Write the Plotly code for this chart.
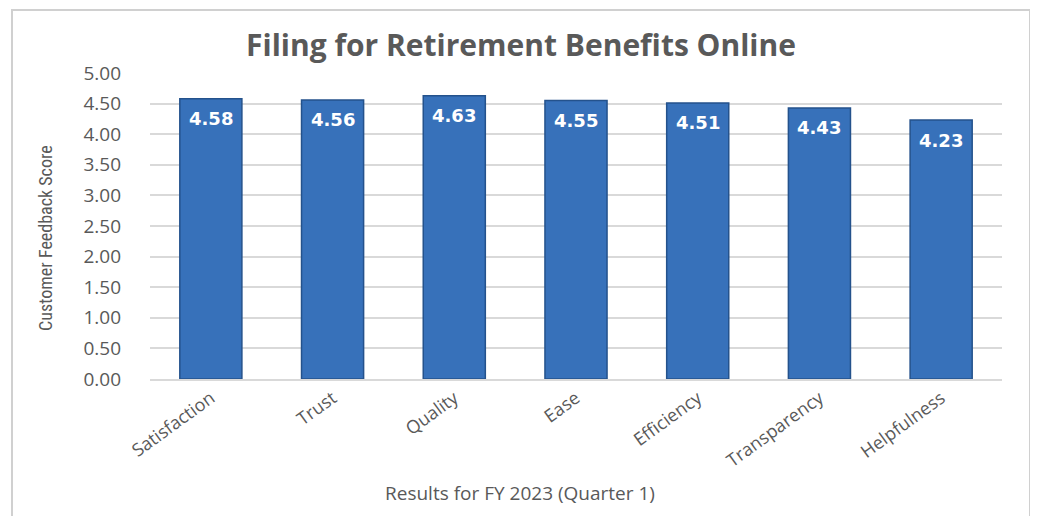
import plotly.graph_objects as go

categories = ["Satisfaction", "Trust", "Quality", "Ease", "Efficiency", "Transparency", "Helpfulness"]
scores = [4.58, 4.56, 4.63, 4.55, 4.51, 4.43, 4.23]
y_ticks = [0, 0.5, 1.0, 1.5, 2.0, 2.5, 3.0, 3.5, 4.0, 4.5, 5.0]

W, H = 1038, 516
OFF = 8  # page body offset
L, R, T, B = 150 - OFF, 44, 73 - OFF, 145
pw, ph = W - L - R, H - T - B

def px(x):
    return (x - OFF - L) / pw

def py(y):
    return (H - B - (y - OFF)) / ph

fig = go.Figure()
fig.add_trace(go.Bar(
    x=categories, y=scores,
    marker=dict(color="#3771ba", line=dict(color="#24528c", width=1.5)),
    width=0.51,
    hoverinfo="x+y",
    cliponaxis=False,
))

annotations = [
    dict(x=c, y=v, xref="x", yref="y", text=f"<b>{v:.2f}</b>", showarrow=False,
         yanchor="middle", yshift=-20,
         font=dict(color="white", size=18, family="DejaVu Sans"))
    for c, v in zip(categories, scores)
]
annotations.append(dict(
    x=px(520), y=py(493), xref="paper", yref="paper", xanchor="center", yanchor="middle",
    text="Results for FY 2023 (Quarter 1)", showarrow=False,
    font=dict(family="Open Sans", size=19, color="#595959")))
annotations.append(dict(
    x=px(45), y=py(238), xref="paper", yref="paper", xanchor="center", yanchor="middle",
    text="Customer Feedback Score", showarrow=False, textangle=-90,
    font=dict(family="Liberation Sans Narrow, Roboto Condensed, Roboto", size=18, color="#595959")))

fig.update_layout(
    width=W, height=H,
    margin=dict(l=L, r=R, t=T, b=B),
    paper_bgcolor="white", plot_bgcolor="white",
    showlegend=False,
    title=dict(text="<b>Filing for Retirement Benefits Online</b>", x=(521 - OFF) / W, xanchor="center",
               y=1 - (45 - OFF) / H, yanchor="middle",
               font=dict(family="Open Sans", size=30, color="#595959")),
    font=dict(family="Open Sans", color="#595959"),
    xaxis=dict(tickangle=-36, tickfont=dict(size=18, color="#595959"),
               showgrid=False, showline=True, linecolor="#d9d9d9", linewidth=1.5),
    yaxis=dict(range=[0, 5], tickvals=y_ticks, tickformat=".2f",
               tickfont=dict(size=19, color="#595959"),
               showgrid=True, gridcolor="#d9d9d9", gridwidth=1.5, zeroline=False,
               ticklabelstandoff=28),
    annotations=annotations,
    shapes=[
        dict(type="rect", xref="paper", yref="paper",
             x0=px(12), x1=px(1030), y0=py(H + 30), y1=py(10),
             line=dict(color="#d0d0d0", width=2), fillcolor="rgba(0,0,0,0)", layer="below"),
        dict(type="line", xref="paper", yref="paper",
             x0=px(1033), x1=px(1033), y0=py(H + 30), y1=py(14),
             line=dict(color="#b0b0b0", width=4), layer="below"),
    ],
)

fig.write_html("out.html")
